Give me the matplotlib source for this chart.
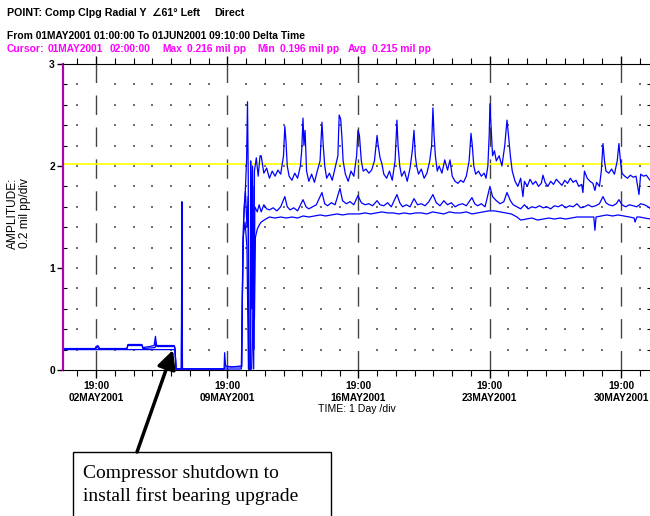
import matplotlib.pyplot as plt
import numpy as np
from matplotlib.patches import Rectangle

# time axis in days from 01MAY2001 01:00 to 01JUN2001 09:10
x_end = 31.34
major_days = [1.75, 8.75, 15.75, 22.75, 29.75]
major_labels = ["19:00\n02MAY2001", "19:00\n09MAY2001", "19:00\n16MAY2001",
                "19:00\n23MAY2001", "19:00\n30MAY2001"]
alarm_level = 2.02

# (day, amplitude) traces
hi_trace = [
    (0.0, 0.21), (1.7, 0.21), (1.75, 0.23), (1.85, 0.24), (1.95, 0.21), (3.4, 0.21),
    (3.45, 0.25), (4.2, 0.25), (4.25, 0.22), (4.6, 0.23), (4.85, 0.24), (4.92, 0.33),
    (4.98, 0.24), (5.05, 0.24), (5.92, 0.24), (5.96, 0.22), (6.02, 0.01), (6.3, 0.01),
    (6.33, 1.65), (6.36, 0.01), (8.58, 0.01), (8.61, 0.17), (8.66, 0.04), (9.0, 0.03),
    (9.52, 0.04), (9.56, 0.75), (9.62, 1.45), (9.7, 1.7), (9.78, 2.05), (9.83, 2.63),
    (9.87, 1.9), (9.9, 0.01), (9.97, 0.01), (10.0, 2.05), (10.05, 1.1), (10.1, 2.0),
    (10.16, 0.01), (10.2, 1.95), (10.3, 2.08), (10.4, 1.9), (10.5, 2.1),
    (10.56, 2.1), (10.7, 1.93), (10.85, 1.98), (11.0, 1.88), (11.15, 1.95), (11.3, 1.90),
    (11.45, 1.96), (11.6, 1.92), (11.75, 2.1), (11.82, 2.39), (11.88, 2.25), (11.95, 2.0),
    (12.05, 1.90), (12.2, 1.86), (12.35, 1.93), (12.5, 1.88), (12.65, 2.0), (12.72, 2.15),
    (12.79, 2.47), (12.84, 2.2), (12.9, 2.35), (12.98, 1.95), (13.1, 1.85), (13.25, 1.92),
    (13.4, 1.84), (13.55, 1.95), (13.7, 2.05), (13.8, 2.43), (13.87, 2.2), (13.95, 2.0),
    (14.05, 1.88), (14.2, 1.93), (14.35, 1.86), (14.5, 1.98), (14.65, 2.1), (14.72, 2.5),
    (14.8, 2.46), (14.86, 2.3), (14.93, 2.05), (15.05, 1.92), (15.2, 1.85), (15.35, 1.95),
    (15.5, 1.90), (15.65, 2.1), (15.72, 2.35), (15.8, 2.3), (15.9, 2.05), (16.0, 1.95),
    (16.15, 1.97), (16.3, 1.93), (16.45, 1.96), (16.6, 2.05), (16.74, 2.30), (16.8, 2.2),
    (16.9, 2.08), (17.0, 2.02), (17.1, 1.92), (17.25, 1.88), (17.4, 1.95), (17.55, 1.86),
    (17.7, 2.05), (17.8, 2.45), (17.86, 2.2), (17.95, 2.0), (18.05, 1.90), (18.2, 1.95),
    (18.35, 1.85), (18.5, 1.98), (18.62, 2.15), (18.71, 2.35), (18.78, 2.1), (18.85, 2.0),
    (18.95, 1.92), (19.1, 1.97), (19.25, 1.88), (19.4, 1.93), (19.55, 2.05), (19.65, 2.2),
    (19.72, 2.57), (19.78, 2.3), (19.85, 2.1), (19.95, 1.95), (20.05, 2.0), (20.2, 1.93),
    (20.35, 2.06), (20.5, 1.96), (20.63, 2.06), (20.75, 1.9), (20.9, 1.85), (21.05, 1.83),
    (21.2, 1.86), (21.35, 1.84), (21.5, 1.9), (21.65, 2.05), (21.75, 2.32), (21.82, 2.2),
    (21.9, 2.0), (22.0, 1.92), (22.15, 1.95), (22.3, 1.90), (22.45, 1.93), (22.55, 1.88),
    (22.65, 2.0), (22.72, 2.3), (22.76, 2.61), (22.82, 2.4), (22.9, 2.1), (23.0, 2.15),
    (23.1, 2.05), (23.25, 2.1), (23.4, 2.0), (23.55, 2.2), (23.67, 2.45), (23.75, 2.3),
    (23.85, 2.1), (23.95, 1.95), (24.1, 1.85), (24.25, 1.80), (24.4, 1.88), (24.52, 1.70),
    (24.6, 1.85), (24.75, 1.80), (24.9, 1.87), (25.05, 1.82), (25.2, 1.85), (25.35, 1.80),
    (25.5, 1.83), (25.59, 1.91), (25.7, 1.84), (25.85, 1.80), (26.0, 1.85), (26.15, 1.82),
    (26.3, 1.87), (26.45, 1.84), (26.6, 1.81), (26.75, 1.86), (26.9, 1.83), (27.05, 1.88),
    (27.2, 1.84), (27.35, 1.86), (27.5, 1.80), (27.65, 1.82), (27.72, 1.74), (27.8, 1.95),
    (27.95, 1.88), (28.1, 1.85), (28.25, 1.83), (28.36, 1.76), (28.45, 1.84), (28.6, 1.80),
    (28.7, 1.95), (28.79, 2.22), (28.87, 2.05), (28.95, 1.95), (29.1, 1.93), (29.25, 1.97),
    (29.4, 1.92), (29.55, 2.05), (29.64, 2.22), (29.72, 2.05), (29.8, 1.93), (29.95, 1.90),
    (30.1, 1.88), (30.25, 1.91), (30.4, 1.89), (30.55, 1.90), (30.71, 1.72), (30.8, 1.92),
    (30.95, 1.90), (31.1, 1.91), (31.34, 1.85),
]

mid_trace = [
    (0.0, 0.21), (1.75, 0.21), (1.8, 0.23), (1.9, 0.21), (3.4, 0.21), (3.45, 0.24),
    (4.2, 0.24), (4.25, 0.21), (4.9, 0.22), (4.95, 0.27), (5.0, 0.23), (5.92, 0.23),
    (5.96, 0.21), (6.02, 0.01), (6.3, 0.01), (6.33, 0.83), (6.36, 0.01), (8.58, 0.01),
    (8.62, 0.03), (9.52, 0.03), (9.58, 1.2), (9.65, 1.6), (9.72, 1.75), (9.8, 1.4),
    (9.86, 1.7), (9.9, 0.01), (10.0, 0.01), (10.03, 1.7), (10.08, 0.6), (10.12, 1.8),
    (10.18, 0.2), (10.22, 1.6), (10.35, 1.55), (10.45, 1.62),
    (10.56, 1.55), (10.7, 1.62), (10.85, 1.58), (11.0, 1.57), (11.2, 1.59), (11.4, 1.56),
    (11.6, 1.6), (11.82, 1.70), (11.95, 1.6), (12.1, 1.57), (12.3, 1.59), (12.5, 1.56),
    (12.79, 1.67), (12.95, 1.6), (13.1, 1.58), (13.3, 1.6), (13.5, 1.62), (13.8, 1.74),
    (13.95, 1.63), (14.1, 1.61), (14.3, 1.64), (14.5, 1.62), (14.76, 1.78), (14.9, 1.66),
    (15.1, 1.63), (15.3, 1.65), (15.5, 1.62), (15.72, 1.71), (15.9, 1.64), (16.1, 1.62),
    (16.3, 1.63), (16.5, 1.61), (16.74, 1.66), (16.9, 1.62), (17.1, 1.61), (17.3, 1.64),
    (17.5, 1.60), (17.8, 1.72), (17.95, 1.64), (18.1, 1.60), (18.3, 1.62), (18.5, 1.60),
    (18.71, 1.68), (18.9, 1.62), (19.1, 1.63), (19.3, 1.61), (19.5, 1.65), (19.72, 1.72),
    (19.9, 1.64), (20.1, 1.61), (20.3, 1.66), (20.5, 1.62), (20.7, 1.64), (20.9, 1.60),
    (21.1, 1.62), (21.3, 1.63), (21.5, 1.61), (21.8, 1.69), (21.95, 1.63), (22.1, 1.61),
    (22.3, 1.63), (22.5, 1.60), (22.76, 1.80), (22.9, 1.70), (23.1, 1.66), (23.3, 1.63),
    (23.5, 1.65), (23.67, 1.74), (23.85, 1.66), (24.0, 1.62), (24.2, 1.60), (24.4, 1.58),
    (24.6, 1.62), (24.8, 1.58), (25.0, 1.60), (25.2, 1.59), (25.4, 1.61), (25.6, 1.59),
    (25.8, 1.60), (26.0, 1.58), (26.2, 1.61), (26.4, 1.60), (26.6, 1.62), (26.8, 1.59),
    (27.0, 1.61), (27.2, 1.60), (27.4, 1.63), (27.6, 1.59), (27.8, 1.60), (28.0, 1.62),
    (28.2, 1.60), (28.4, 1.61), (28.6, 1.63), (28.79, 1.70), (28.95, 1.64), (29.1, 1.62),
    (29.3, 1.61), (29.5, 1.63), (29.64, 1.67), (29.8, 1.62), (30.0, 1.60), (30.2, 1.62),
    (30.4, 1.61), (30.6, 1.60), (30.8, 1.63), (31.0, 1.62), (31.2, 1.60), (31.34, 1.58),
]

lo_trace = [
    (0.0, 0.20), (5.92, 0.20), (5.96, 0.20), (6.02, 0.01), (8.6, 0.01), (9.5, 0.01),
    (9.6, 1.3), (9.7, 1.45), (9.8, 1.2), (9.88, 0.01), (10.05, 0.01), (10.1, 0.3),
    (10.14, 1.2), (10.2, 0.5), (10.25, 1.3), (10.35, 1.38), (10.45, 1.42),
    (10.56, 1.45), (10.8, 1.48), (11.0, 1.50), (11.3, 1.49), (11.6, 1.50), (11.9, 1.49),
    (12.2, 1.50), (12.5, 1.49), (12.8, 1.51), (13.1, 1.50), (13.4, 1.51), (13.7, 1.52),
    (14.0, 1.51), (14.3, 1.52), (14.6, 1.53), (14.9, 1.52), (15.2, 1.53), (15.5, 1.53),
    (15.8, 1.53), (16.1, 1.54), (16.4, 1.53), (16.7, 1.54), (17.0, 1.55), (17.3, 1.54),
    (17.6, 1.54), (17.9, 1.53), (18.2, 1.54), (18.5, 1.53), (18.8, 1.54), (19.1, 1.54),
    (19.4, 1.53), (19.7, 1.55), (20.0, 1.54), (20.3, 1.53), (20.6, 1.55), (20.9, 1.54),
    (21.2, 1.54), (21.5, 1.55), (21.8, 1.53), (22.1, 1.54), (22.4, 1.55), (22.7, 1.56),
    (23.0, 1.56), (23.3, 1.55), (23.6, 1.54), (23.9, 1.53), (24.2, 1.50), (24.4, 1.47),
    (24.7, 1.48), (25.0, 1.49), (25.3, 1.47), (25.6, 1.48), (25.9, 1.49), (26.2, 1.48),
    (26.5, 1.49), (26.8, 1.48), (27.1, 1.49), (27.4, 1.50), (27.7, 1.50), (28.3, 1.50),
    (28.36, 1.37), (28.42, 1.50), (28.7, 1.51), (29.0, 1.52), (29.3, 1.51), (29.6, 1.52),
    (29.9, 1.51), (30.2, 1.50), (30.45, 1.49), (30.5, 1.45), (30.6, 1.50), (30.75, 1.50),
    (31.0, 1.49), (31.34, 1.48),
]

sans = ['Liberation Sans', 'DejaVu Sans']
fig = plt.figure(figsize=(6.5, 5.16), dpi=100)
ax = fig.add_axes([63.2 / 650, 146 / 516, 587.6 / 650, 306 / 516])

# dotted background grid at day / 0.2 div positions
minor_days = np.arange(0.75, x_end, 1.0)
gx, gy = np.meshgrid([d for d in minor_days if d not in major_days], np.arange(0.2, 2.9, 0.2))
ax.scatter(gx.ravel(), gy.ravel(), s=1.2, color='#707070', marker='s', linewidths=0)
for d in major_days:
    ax.axvline(d, color='#444444', lw=1.0, dashes=(14, 9))

ax.axhline(alarm_level, color='#ffff00', lw=1.2)
for trace in (lo_trace, mid_trace, hi_trace):
    d, v = np.array(trace).T
    ax.plot(d, v, color='#0000ff', lw=0.9)

ax.set_xlim(0, x_end)
ax.set_ylim(0, 3)
ax.set_xticks(major_days)
ax.set_xticklabels(major_labels, fontsize=7.4, fontweight='bold', family=sans, linespacing=1.25)
ax.set_xticks(minor_days, minor=True)
ax.set_yticks([0, 1, 2, 3])
ax.set_yticklabels(['0', '1', '2', '3'], fontsize=7.4, fontweight='bold', family=sans)
ax.set_yticks(np.arange(0.2, 3.0, 0.2), minor=True)
ax.tick_params(axis='x', which='major', direction='out', length=6, width=1, top=True, pad=2)
ax.tick_params(axis='x', which='minor', direction='out', length=4, width=0.8, top=True)
ax.tick_params(axis='y', which='major', direction='out', length=4, width=1, pad=2)
ax.tick_params(axis='y', which='minor', direction='in', length=3, width=0.8, right=True)
ax.spines['left'].set_color('#b000b0')
ax.spines['left'].set_linewidth(1.6)
ax.spines['right'].set_visible(False)

ax.set_xlabel('TIME: 1 Day /div', fontsize=7.6, family=sans, labelpad=1)
fig.text(19 / 650, 1 - 213 / 516, 'AMPLITUDE:\n0.2 mil pp/div', rotation=90,
         ha='center', va='center', fontsize=8.6, family=sans, linespacing=1.1)

# header lines
hdr = dict(fontsize=7.4, fontweight='bold', family=sans, va='center')
top_hdr = dict(hdr, fontsize=7.7)
fig.text(7 / 650, 1 - 13.5 / 516, 'POINT: Comp Clpg Radial Y', **top_hdr)
fig.text(152 / 650, 1 - 13.5 / 516, '\u222061\u00b0 Left', **top_hdr)
fig.text(214 / 650, 1 - 13.5 / 516, 'Direct', **top_hdr)
fig.text(7 / 650, 1 - 36 / 516,
         'From 01MAY2001 01:00:00 To 01JUN2001 09:10:00 Delta Time', **hdr)
cursor_parts = [(7, 'Cursor:'), (48, '01MAY2001'), (110, '02:00:00'), (162, 'Max'),
                (187, '0.216 mil pp'), (257, 'Min'), (280, '0.196 mil pp'),
                (348, 'Avg'), (372, '0.215 mil pp')]
for px, s in cursor_parts:
    fig.text(px / 650, 1 - 49 / 516, s, color='#ff00ff', **hdr)

# annotation box (runs off the bottom of the picture)
fig.patches.append(Rectangle((73 / 650, -0.05), 258 / 650, 64 / 516 + 0.05,
                             transform=fig.transFigure, fill=False, edgecolor='black', lw=1.0))
fig.text(83 / 650, 1 - 485 / 516, 'Compressor shutdown to\ninstall first bearing upgrade',
         fontsize=14, family=['Liberation Serif', 'DejaVu Serif'], va='center', ha='left',
         linespacing=1.35)
ax.annotate('', xy=(173, 166), xytext=(137, 64), xycoords='figure pixels',
            textcoords='figure pixels',
            arrowprops=dict(arrowstyle='-|>', lw=2.5, color='black', mutation_scale=28,
                            shrinkA=0, shrinkB=0))

plt.savefig('out.png', dpi=100)
